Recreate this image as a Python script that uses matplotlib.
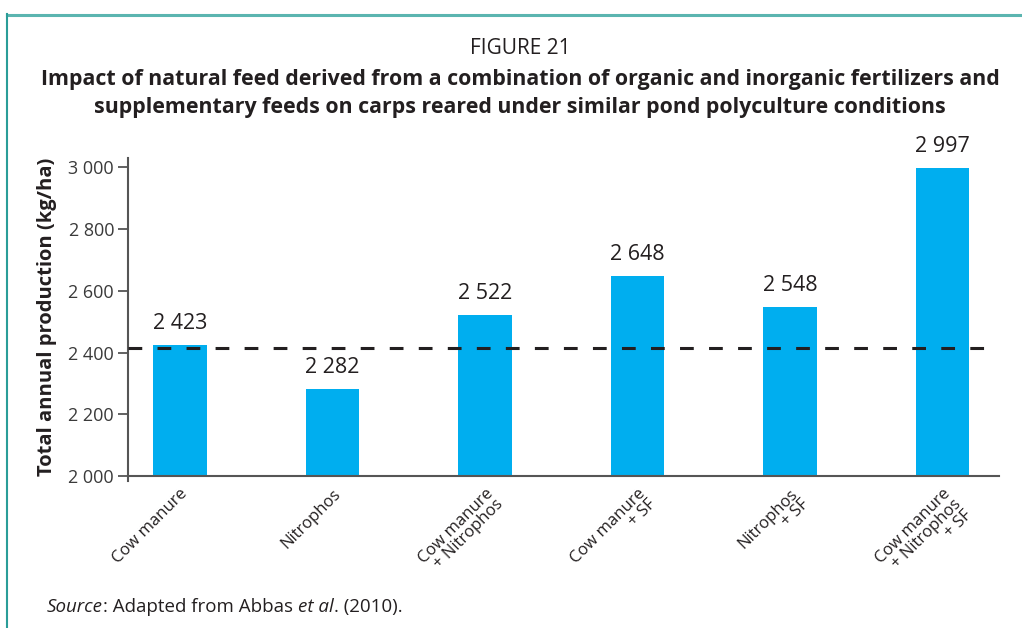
import matplotlib.pyplot as plt
from matplotlib.ticker import FuncFormatter
from matplotlib.lines import Line2D

plt.rcParams['font.family'] = ['Open Sans', 'DejaVu Sans']

# data
categories = ['Cow manure', 'Nitrophos', 'Cow manure\n+ Nitrophos',
              'Cow manure\n+ SF', 'Nitrophos\n+ SF', 'Cow manure\n+ Nitrophos\n+ SF']
production = [2423, 2282, 2522, 2648, 2548, 2997]
reference_level = 2414
yticks = [2000, 2200, 2400, 2600, 2800, 3000]


def spaced(v):
    return '{:,}'.format(int(v)).replace(',', ' ')


fig = plt.figure(figsize=(10.22, 6.28), dpi=100)
ax = fig.add_axes([0.1252, 0.2420, 0.8523, 0.5064])

xs = list(range(len(categories)))
ax.bar(xs, [p - 2000 for p in production], bottom=2000, width=0.35,
       color='#00AEEF', zorder=2)

for x, p in zip(xs, production):
    ax.annotate(spaced(p), (x, p), xytext=(0, 8), textcoords='offset points',
                ha='center', va='bottom', fontsize=15.5, color='#231F20')

ax.plot([-0.34, 5.30], [reference_level, reference_level], color='#231F20',
        lw=2.2, dashes=(4.5, 5), zorder=3, clip_on=False)

ax.set_xlim(-0.34, 5.37)
ax.set_ylim(2000, 3030)
ax.set_yticks(yticks)
ax.yaxis.set_major_formatter(FuncFormatter(lambda v, pos: spaced(v)))
ax.set_xticks(xs)
ax.set_xticklabels(categories, rotation=45, ha='right', va='top',
                   rotation_mode='anchor', multialignment='right',
                   fontsize=12, color='#231F20', linespacing=0.9)
ax.tick_params(axis='x', length=0, pad=7)
ax.tick_params(axis='y', length=7, width=1.3, color='#555555', labelsize=13,
               labelcolor='#3a3a3a', pad=3)

for s in ['top', 'right']:
    ax.spines[s].set_visible(False)
for s in ['left', 'bottom']:
    ax.spines[s].set_color('#555555')
    ax.spines[s].set_linewidth(1.5)
ax.spines['left'].set_bounds(1985, 3030)

ax.set_ylabel('Total annual production (kg/ha)', fontsize=14.5, fontweight='bold',
              color='#231F20', labelpad=8)

# titles
fig.text(0.509, 1 - 49 / 628, 'FIGURE 21', ha='center', va='center',
         fontsize=15, color='#231F20')
fig.text(0.509, 1 - 79 / 628,
         'Impact of natural feed derived from a combination of organic and inorganic fertilizers and',
         ha='center', va='center', fontsize=15.4, fontweight='bold', color='#231F20')
fig.text(0.509, 1 - 107 / 628,
         'supplementary feeds on carps reared under similar pond polyculture conditions',
         ha='center', va='center', fontsize=15.4, fontweight='bold', color='#231F20')

# source line built from pieces (italic / regular)
t = fig.text(47 / 1022, 1 - 616 / 628, 'Source', style='italic', fontsize=13.5,
             va='bottom', color='#231F20')
parts = [(': Adapted from Abbas ', 'normal'), ('et al', 'italic'), ('. (2010).', 'normal')]
for txt, st in parts:
    t = ax.annotate(txt, xy=(1, 0), xycoords=t, va='bottom', ha='left',
                    style=st, fontsize=13.5, color='#231F20', annotation_clip=False)

# frame
fig.add_artist(Line2D([7 / 1022, 1.0], [1 - 15 / 628, 1 - 15 / 628],
                      color='#5BB5B0', lw=2.2, transform=fig.transFigure))
fig.add_artist(Line2D([7 / 1022, 7 / 1022], [0, 1 - 14 / 628],
                      color='#2A9D98', lw=1.5, transform=fig.transFigure))

fig.savefig('out.png', dpi=100)
